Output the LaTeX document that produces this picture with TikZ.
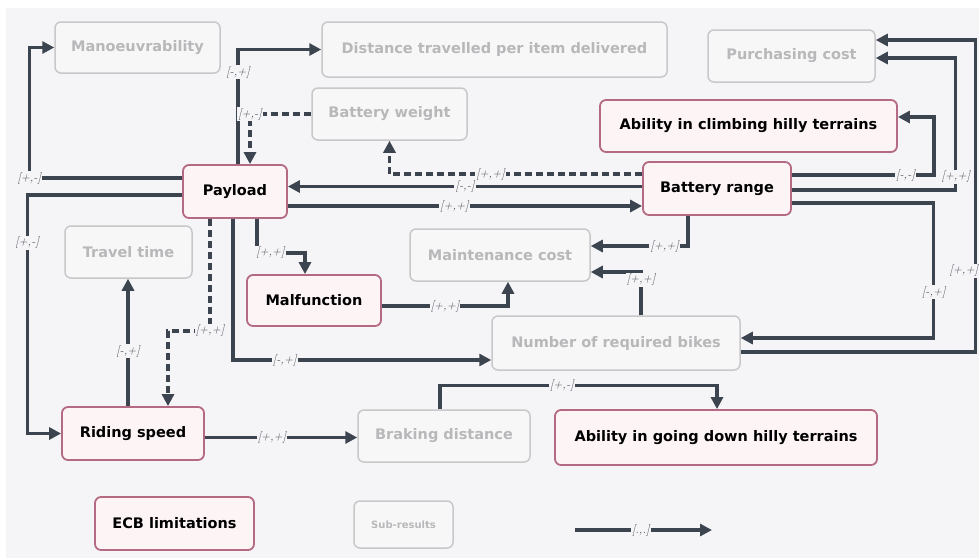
\documentclass[tikz,border=0pt]{standalone}
\usepackage{fontspec}
\newfontfamily\boxfont{DejaVu Sans}
\usetikzlibrary{arrows.meta}

\definecolor{bgc}{HTML}{F5F5F7}
\definecolor{linec}{HTML}{3C4450}
\definecolor{keyc}{HTML}{B56A84}
\definecolor{keyfill}{HTML}{FDF4F6}
\definecolor{subc}{HTML}{C8C8CA}
\definecolor{subfill}{HTML}{F7F7F8}
\definecolor{subtext}{HTML}{B8B8BA}
\definecolor{lblc}{HTML}{4A4F58}

\tikzset{
  base/.style={rectangle, rounded corners=6pt, inner sep=2pt,
    font=\boxfont\bfseries\fontsize{14.5}{17}\selectfont},
  key/.style={base, draw=keyc, fill=keyfill, line width=1.8pt, text=black},
  sub/.style={base, draw=subc, fill=subfill, line width=1.5pt, text=subtext},
  conn/.style={draw=linec, line width=3.2pt, -{Triangle[length=12pt,width=12pt]}},
  dashline/.style={dash pattern=on 7pt off 4pt},
  lbl/.style={font=\itshape\fontsize{12}{14}\selectfont, text=lblc, fill=bgc, inner sep=1pt},
}

\begin{document}
\begin{tikzpicture}[x=1pt,y=-1pt]
  \useasboundingbox (0,0) rectangle (979,558);
  \fill[white] (0,0) rectangle (979,558);
  \fill[bgc] (6,8) rectangle (979,558);

  % factors
  \node[sub, minimum width=165pt, minimum height=51pt] (man)  at (137.5,47.5) {Manoeuvrability};
  \node[sub, minimum width=345pt, minimum height=55pt] (dist) at (494.5,49.5) {Distance travelled per item delivered};
  \node[sub, minimum width=167pt, minimum height=52pt] (pur)  at (791.5,56) {Purchasing cost};
  \node[sub, minimum width=155pt, minimum height=52pt] (bw)   at (389.5,114) {Battery weight};
  \node[key, minimum width=297pt, minimum height=52pt] (climb) at (748.5,126) {Ability in climbing hilly terrains};
  \node[key, minimum width=104pt, minimum height=53pt] (pay)  at (235,191.5) {Payload};
  \node[key, minimum width=148pt, minimum height=53pt] (br)   at (717,188.5) {Battery range};
  \node[sub, minimum width=127pt, minimum height=52pt] (tt)   at (128.5,252) {Travel time};
  \node[sub, minimum width=180pt, minimum height=52pt] (mc)   at (500,255) {Maintenance cost};
  \node[key, minimum width=134pt, minimum height=51pt] (mal)  at (314,300.5) {Malfunction};
  \node[sub, minimum width=248pt, minimum height=54pt] (nb)   at (616,343) {Number of required bikes};
  \node[key, minimum width=142pt, minimum height=53pt] (rs)   at (133,433.5) {Riding speed};
  \node[sub, minimum width=172pt, minimum height=52pt] (bd)   at (444,436) {Braking distance};
  \node[key, minimum width=322pt, minimum height=55pt] (gd)   at (716,437.5) {Ability in going down hilly terrains};
  \node[key, minimum width=159pt, minimum height=53pt] (ecb)  at (174.5,523.5) {ECB limitations};
  \node[sub, minimum width=99pt, minimum height=47pt, font=\boxfont\bfseries\fontsize{10}{12}\selectfont] (subr) at (403.5,524.5) {Sub-results};

  % influences of the payload
  \draw[conn] ([yshift=13.5pt]pay.west) -| node[lbl,pos=0.5]{[+,-]} ([xshift=-25pt]man.west) -- (man.west);
  \draw[conn] ([yshift=-3.5pt]pay.west) -| node[lbl,pos=0.6]{[+,-]} ([xshift=-34pt]rs.west) -- (rs.west);
  \draw[conn] ([xshift=3pt]pay.north) |- node[lbl,pos=0.4]{[-,+]} (dist.west);
  \draw[conn, dashline] (bw.west) -| node[lbl,pos=0.5]{[+,-]} ([xshift=15pt]pay.north);
  \draw[conn] ([yshift=-14.5pt]pay.east) -- node[lbl,pos=0.47]{[+,+]} ([yshift=-17.5pt]br.west);
  \draw[conn] ([xshift=22pt]pay.south) -- ++(0,34) -| node[lbl,pos=0.14]{[+,+]} ([xshift=-9pt]mal.north);
  \draw[conn] ([xshift=-2pt]pay.south) |- node[lbl,pos=0.6]{[-,+]} ([yshift=-17pt]nb.west);
  \draw[conn, dashline] ([xshift=-25pt]pay.south) -- ++(0,112) node[lbl]{[+,+]} -| ([xshift=35pt]rs.north);

  % influences of the battery range
  \draw[conn, dashline] ([yshift=14.5pt]br.west) -| node[lbl,pos=0.3]{[+,+]} (bw.south);
  \draw[conn] ([yshift=2pt]br.west) -- node[lbl,pos=0.5]{[-,-]} ([yshift=5pt]pay.east);
  \draw[conn] ([yshift=13.5pt]br.east) -| node[lbl,pos=0.4]{[-,-]} ([xshift=36pt,yshift=9pt]climb.east) -- ([yshift=9pt]climb.east);
  \draw[conn] ([yshift=-1.5pt]br.east) -| node[lbl,pos=0.55]{[+,+]} ([xshift=80pt,yshift=-2pt]pur.east) -- ([yshift=-2pt]pur.east);
  \draw[conn] ([yshift=-14.5pt]br.east) -| node[lbl,pos=0.83]{[-,+]} ([xshift=193pt,yshift=5pt]nb.east) -- ([yshift=5pt]nb.east);
  \draw[conn] ([xshift=-29pt]br.south) |- node[lbl,pos=0.62]{[+,+]} ([yshift=9pt]mc.east);

  % other influences
  \draw[conn] ([yshift=-9pt]nb.east) -| node[lbl,pos=0.63,anchor=east,xshift=5pt]{[+,+]} ([xshift=100pt,yshift=16pt]pur.east) -- ([yshift=16pt]pur.east);
  \draw[conn] ([xshift=25pt]nb.north) |- node[lbl,pos=0.41]{[+,+]} ([yshift=-17pt]mc.east);
  \draw[conn] ([yshift=-5.5pt]mal.east) -| node[lbl,pos=0.25]{[+,+]} ([xshift=8pt]mc.south);
  \draw[conn] ([xshift=-5pt]rs.north) -- node[lbl,pos=0.43]{[-,+]} ([xshift=-0.5pt]tt.south);
  \draw[conn] ([yshift=-4pt]rs.east) -- node[lbl,pos=0.44]{[+,+]} ([yshift=-1.5pt]bd.west);
  \draw[conn] ([xshift=-4pt]bd.north) -- ++(0,-24) -| node[lbl,pos=0.22]{[+,-]} ([xshift=1pt]gd.north);

  % legend arrow
  \coordinate (la) at (575,530);
  \coordinate (lb) at (712,530);
  \draw[conn] (la) -- node[lbl,pos=0.48]{[.,.]} (lb);
\end{tikzpicture}
\end{document}
